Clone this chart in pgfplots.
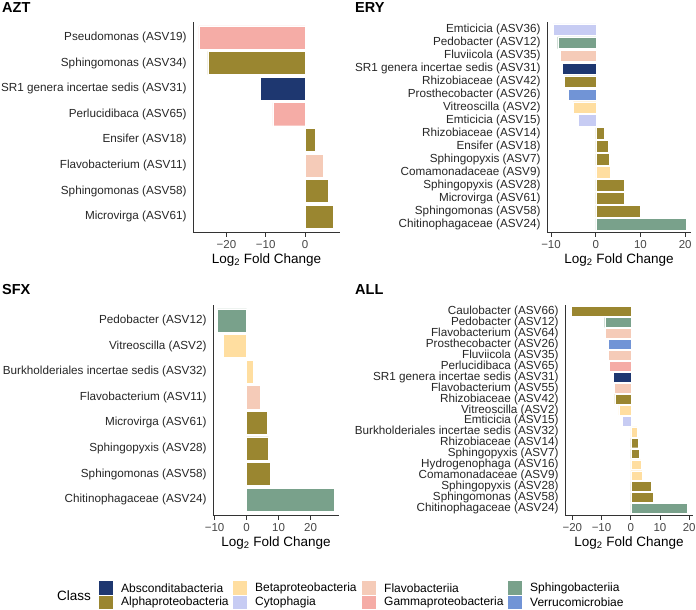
\documentclass[border=0pt]{standalone}
\usepackage{fontspec}
\setmainfont{Liberation Sans}
\usepackage{pgfplots}
\pgfplotsset{compat=1.18}

\definecolor{cAbs}{RGB}{30,55,112}
\definecolor{cAlpha}{RGB}{154,134,48}
\definecolor{cBeta}{RGB}{255,222,160}
\definecolor{cCyto}{RGB}{199,204,243}
\definecolor{cFlavo}{RGB}{245,203,184}
\definecolor{cGamma}{RGB}{245,172,166}
\definecolor{cSphingo}{RGB}{121,161,139}
\definecolor{cVerru}{RGB}{113,148,214}

\pgfplotsset{
  lfc/.style={
    scale only axis, height=210pt,
    xbar, bar width=0.9, bar shift=0pt,
    y dir=reverse, ymin=0.4,
    axis lines*=left,
    axis line style={black!80, line width=0.6pt},
    tick align=outside, major tick length=4.5pt,
    xtick style={black!80, line width=0.6pt},
    ytick style={draw=none},
    yticklabel style={font=\fontsize{11.7}{12}\selectfont, text=black!85, xshift=1.5pt},
    xticklabel style={font=\fontsize{11.5}{12}\selectfont, text=black!72},
    xlabel={Log\textsubscript{2} Fold Change},
    xlabel style={font=\fontsize{13.5}{14}\selectfont, yshift=1pt},
    every axis plot/.append style={draw=white, line width=0.4pt},
  },
}

\begin{document}
\begin{tikzpicture}
\path[use as bounding box] (0pt,0pt) rectangle (696pt,-610pt);

% AZT
\begin{axis}[lfc, at={(193pt,-232pt)}, anchor=south west, width=147pt,
  xmin=-28.5, xmax=8.9, ymax=8.6, ytick={1,...,8},
  xtick={-20,-10,0}, xticklabels={−20,−10,0},
  yticklabels={Pseudomonas (ASV19),Sphingomonas (ASV34),SR1 genera incertae sedis (ASV31),Perlucidibaca (ASV65),Ensifer (ASV18),Flavobacterium (ASV11),Sphingomonas (ASV58),Microvirga (ASV61)}]
\addplot[fill=cGamma] coordinates {(-27.0,1) (-8.2,4)};
\addplot[fill=cAlpha] coordinates {(-24.7,2) (2.5,5) (5.8,7) (7.1,8)};
\addplot[fill=cAbs] coordinates {(-11.5,3)};
\addplot[fill=cFlavo] coordinates {(4.6,6)};
\end{axis}

% ERY
\begin{axis}[lfc, at={(547pt,-232pt)}, anchor=south west, width=144pt,
  xmin=-10.9, xmax=21.3, ymax=16.6, ytick={1,...,16},
  xtick={-10,0,10,20}, xticklabels={−10,0,10,20},
  yticklabels={Emticicia (ASV36),Pedobacter (ASV12),Fluviicola (ASV35),SR1 genera incertae sedis (ASV31),Rhizobiaceae (ASV42),Prosthecobacter (ASV26),Vitreoscilla (ASV2),Emticicia (ASV15),Rhizobiaceae (ASV14),Ensifer (ASV18),Sphingopyxis (ASV7),Comamonadaceae (ASV9),Sphingopyxis (ASV28),Microvirga (ASV61),Sphingomonas (ASV58),Chitinophagaceae (ASV24)}]
\addplot[fill=cCyto] coordinates {(-9.5,1) (-3.9,8)};
\addplot[fill=cSphingo] coordinates {(-8.5,2) (20.2,16)};
\addplot[fill=cFlavo] coordinates {(-7.85,3)};
\addplot[fill=cAbs] coordinates {(-7.6,4)};
\addplot[fill=cAlpha] coordinates {(-7.0,5) (1.9,9) (2.7,10) (3.0,11) (6.3,13) (6.4,14) (9.9,15)};
\addplot[fill=cVerru] coordinates {(-6.15,6)};
\addplot[fill=cBeta] coordinates {(-5.0,7) (3.3,12)};
\end{axis}

% SFX
\begin{axis}[lfc, at={(213pt,-515pt)}, anchor=south west, width=126pt,
  xmin=-10.5, xmax=28.9, ymax=8.6, ytick={1,...,8},
  xtick={-10,0,10,20}, xticklabels={−10,0,10,20},
  yticklabels={Pedobacter (ASV12),Vitreoscilla (ASV2),Burkholderiales incertae sedis (ASV32),Flavobacterium (ASV11),Microvirga (ASV61),Sphingopyxis (ASV28),Sphingomonas (ASV58),Chitinophagaceae (ASV24)}]
\addplot[fill=cSphingo] coordinates {(-9.1,1) (27.3,8)};
\addplot[fill=cBeta] coordinates {(-7.2,2) (2.2,3)};
\addplot[fill=cFlavo] coordinates {(4.2,4)};
\addplot[fill=cAlpha] coordinates {(6.4,5) (6.8,6) (7.5,7)};
\end{axis}

% ALL
\begin{axis}[lfc, at={(565pt,-515pt)}, anchor=south west, width=128pt,
  xmin=-22.5, xmax=21.3, ymax=19.6, ytick={1,...,19},
  xtick={-20,-10,0,10,20}, xticklabels={−20,−10,0,10,20},
  yticklabels={Caulobacter (ASV66),Pedobacter (ASV12),Flavobacterium (ASV64),Prosthecobacter (ASV26),Fluviicola (ASV35),Perlucidibaca (ASV65),SR1 genera incertae sedis (ASV31),Flavobacterium (ASV55),Rhizobiaceae (ASV42),Vitreoscilla (ASV2),Emticicia (ASV15),Burkholderiales incertae sedis (ASV32),Rhizobiaceae (ASV14),Sphingopyxis (ASV7),Hydrogenophaga (ASV16),Comamonadaceae (ASV9),Sphingopyxis (ASV28),Sphingomonas (ASV58),Chitinophagaceae (ASV24)}]
\addplot[fill=cAlpha] coordinates {(-20.3,1) (-5.4,9) (2.5,13) (2.9,14) (6.9,17) (7.8,18)};
\addplot[fill=cSphingo] coordinates {(-8.9,2) (19.4,19)};
\addplot[fill=cFlavo] coordinates {(-8.6,3) (-7.7,5) (-5.5,8)};
\addplot[fill=cVerru] coordinates {(-7.8,4)};
\addplot[fill=cGamma] coordinates {(-7.3,6)};
\addplot[fill=cAbs] coordinates {(-6.1,7)};
\addplot[fill=cBeta] coordinates {(-4.1,10) (2.1,12) (3.5,15) (3.8,16)};
\addplot[fill=cCyto] coordinates {(-3.0,11)};
\end{axis}

% panel titles
\begin{scope}[every node/.style={anchor=north west, inner sep=0pt, font=\bfseries\fontsize{14.5}{15}\selectfont}]
\node at (2pt,-2pt) {AZT};
\node at (355pt,-2pt) {ERY};
\node at (2pt,-284pt) {SFX};
\node at (355pt,-284pt) {ALL};
\end{scope}

% legend
\node[anchor=west, inner sep=0pt, font=\fontsize{13.5}{14}\selectfont] at (57pt,-596pt) {Class};
\begin{scope}[every node/.style={anchor=west, inner sep=0pt, font=\fontsize{12}{13}\selectfont}]
\fill[cAbs] (99pt,-581pt) rectangle (113pt,-594.5pt);
\fill[cAlpha] (99pt,-595.5pt) rectangle (113pt,-609pt);
\node at (121pt,-588pt) {Absconditabacteria};
\node at (121pt,-602pt) {Alphaproteobacteria};
\fill[cBeta] (233pt,-581pt) rectangle (247pt,-594.5pt);
\fill[cCyto] (233pt,-595.5pt) rectangle (247pt,-609pt);
\node at (255pt,-588pt) {Betaproteobacteria};
\node at (255pt,-602pt) {Cytophagia};
\fill[cFlavo] (362pt,-581pt) rectangle (376pt,-594.5pt);
\fill[cGamma] (362pt,-595.5pt) rectangle (376pt,-609pt);
\node at (384pt,-588pt) {Flavobacteriia};
\node at (384pt,-602pt) {Gammaproteobacteria};
\fill[cSphingo] (508pt,-581pt) rectangle (522pt,-594.5pt);
\fill[cVerru] (508pt,-595.5pt) rectangle (522pt,-609pt);
\node at (530pt,-588pt) {Sphingobacteriia};
\node at (530pt,-602pt) {Verrucomicrobiae};
\end{scope}
\end{tikzpicture}
\end{document}
